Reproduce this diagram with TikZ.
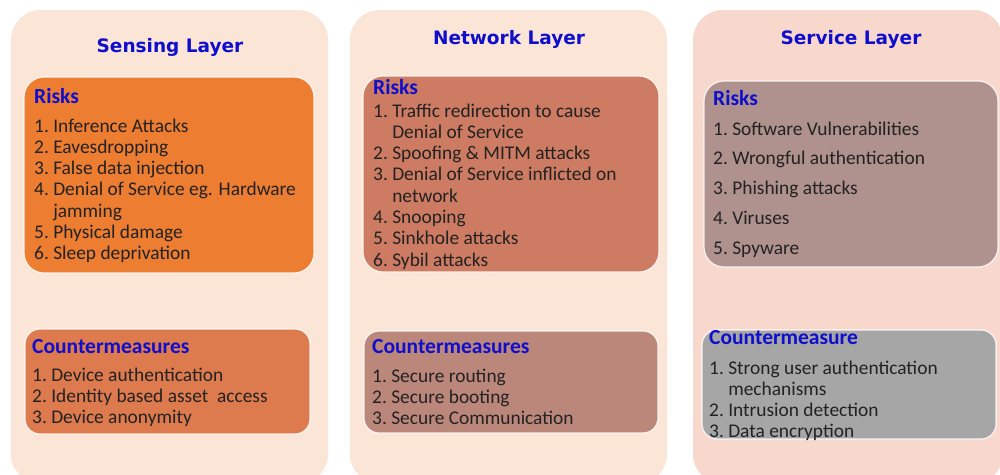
\documentclass[tikz,border=0pt]{standalone}
\usepackage{fontspec}
\setmainfont{Carlito}
\newfontfamily\titlefont{DejaVu Sans}
\definecolor{headblue}{RGB}{14,14,204}
\definecolor{bodytext}{RGB}{34,34,34}
\definecolor{panelA}{RGB}{251,229,214}
\definecolor{panelC}{RGB}{248,216,204}
\definecolor{riskS}{RGB}{237,125,49}
\definecolor{cmS}{RGB}{221,122,78}
\definecolor{riskN}{RGB}{205,123,98}
\definecolor{cmN}{RGB}{188,135,123}
\definecolor{riskV}{RGB}{175,145,141}
\definecolor{cmV}{RGB}{166,166,166}
\newcommand\itemno[1]{\makebox[19.1pt][l]{#1}}
\begin{document}
\begin{tikzpicture}[x=1pt,y=-1pt,
  panel/.style={rounded corners=30pt},
  box/.style={draw=white, line width=1.2pt, draw opacity=0.85},
  layertitle/.style={font=\titlefont\bfseries\fontsize{18.5}{20}\selectfont, text=headblue, anchor=base, inner sep=0pt},
  head/.style={font=\bfseries\fontsize{21.5}{24}\selectfont, text=headblue, anchor=base west, inner sep=0pt},
  line/.style={font=\fontsize{19.4}{21}\selectfont, text=bodytext, anchor=base west, inner sep=0pt},
  cont/.style={line, xshift=19.1pt}]
\useasboundingbox (0,0) rectangle (1000,474);
\fill[white] (0,0) rectangle (1000,474);
\clip (0,0) rectangle (1000,474);

% layer panels
\fill[panelA, panel] (11,10) rectangle (328,484);
\fill[panelA, panel] (350,10) rectangle (667,484);
\fill[panelC, panel] (693,10) rectangle (1003,484);

% inner boxes
\filldraw[box, fill=riskS, rounded corners=20pt] (24,77) rectangle (314,273);
\filldraw[box, fill=cmS, rounded corners=15pt] (25,329) rectangle (310,434);
\filldraw[box, fill=riskN, rounded corners=20pt] (363,76) rectangle (659,272);
\filldraw[box, fill=cmN, rounded corners=15pt] (364,331) rectangle (658,433);
\filldraw[box, fill=riskV, rounded corners=20pt] (704,81) rectangle (998,267);
\filldraw[box, fill=cmV, rounded corners=15pt] (702,330) rectangle (996,439);

% Sensing layer
\node[layertitle] (tS) at (170,52) {Sensing Layer};
\node[head] (rS) at (34,103) {Risks};
\node[line] (rS1) at (34,132) {\itemno{1.}Inference Attacks};
\node[line] (rS2) at (34,153.3) {\itemno{2.}Eavesdropping};
\node[line] (rS3) at (34,174.6) {\itemno{3.}False data injection};
\node[line] (rS4) at (34,195.9) {\itemno{4.}Denial of Service eg. Hardware};
\node[cont] (rS4b) at (34,217.2) {jamming};
\node[line] (rS5) at (34,238.5) {\itemno{5.}Physical damage};
\node[line] (rS6) at (34,259.8) {\itemno{6.}Sleep deprivation};
\node[head] (cS) at (32,353) {Countermeasures};
\node[line] (cS1) at (32,381) {\itemno{1.}Device authentication};
\node[line] (cS2) at (32,402.3) {\itemno{2.}Identity based asset\ \ access};
\node[line] (cS3) at (32,423.6) {\itemno{3.}Device anonymity};

% Network layer
\node[layertitle] (tN) at (509,44) {Network Layer};
\node[head] (rN) at (373,94) {Risks};
\node[line] (rN1) at (373,117) {\itemno{1.}Traffic redirection to cause};
\node[cont] (rN1b) at (373,138.3) {Denial of Service};
\node[line] (rN2) at (373,159.6) {\itemno{2.}Spoofing \& MITM attacks};
\node[line] (rN3) at (373,180.9) {\itemno{3.}Denial of Service inflicted on};
\node[cont] (rN3b) at (373,202.2) {network};
\node[line] (rN4) at (373,223.5) {\itemno{4.}Snooping};
\node[line] (rN5) at (373,244.8) {\itemno{5.}Sinkhole attacks};
\node[line] (rN6) at (373,266.1) {\itemno{6.}Sybil attacks};
\node[head] (cN) at (372,353) {Countermeasures};
\node[line] (cN1) at (372,382) {\itemno{1.}Secure routing};
\node[line] (cN2) at (372,403) {\itemno{2.}Secure booting};
\node[line] (cN3) at (372,424) {\itemno{3.}Secure Communication};

% Service layer
\node[layertitle] (tV) at (851,44) {Service Layer};
\node[head] (rV) at (713,105) {Risks};
\node[line] (rV1) at (713,135) {\itemno{1.}Software Vulnerabilities};
\node[line] (rV2) at (713,164.8) {\itemno{2.}Wrongful authentication};
\node[line] (rV3) at (713,194.6) {\itemno{3.}Phishing attacks};
\node[line] (rV4) at (713,224.4) {\itemno{4.}Viruses};
\node[line] (rV5) at (713,254.2) {\itemno{5.}Spyware};
\node[head] (cV) at (709,344) {Countermeasure};
\node[line] (cV1) at (709,374) {\itemno{1.}Strong user authentication};
\node[cont] (cV1b) at (709,395) {mechanisms};
\node[line] (cV2) at (709,416) {\itemno{2.}Intrusion detection};
\node[line] (cV3) at (709,437) {\itemno{3.}Data encryption};
\end{tikzpicture}
\end{document}
